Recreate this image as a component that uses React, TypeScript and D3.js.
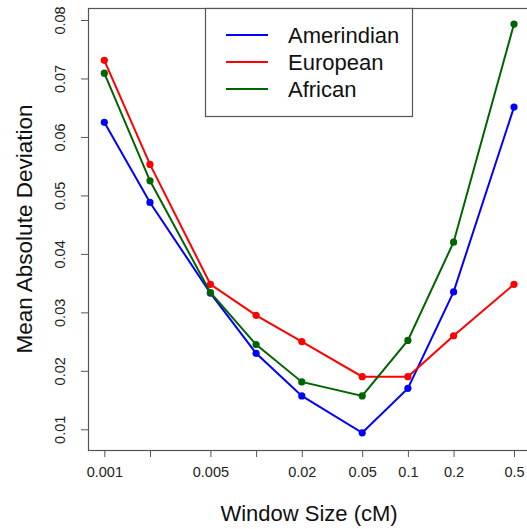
import { useEffect, useRef } from "react";
import * as d3 from "d3";

// window sizes (cM) and mean absolute deviation per ancestry
const windowSizes = [0.001, 0.002, 0.005, 0.01, 0.02, 0.05, 0.1, 0.2, 0.5];
const amerindian = [0.0625, 0.0488, 0.0333, 0.023, 0.0157, 0.0094, 0.017, 0.0335, 0.0651];
const european = [0.0731, 0.0553, 0.0348, 0.0295, 0.025, 0.019, 0.019, 0.026, 0.0348];
const african = [0.0709, 0.0525, 0.0334, 0.0245, 0.0181, 0.0157, 0.0252, 0.042, 0.0793];
const xLabels = ["0.001", "", "0.005", "", "0.02", "0.05", "0.1", "0.2", "0.5"];
const yTicks = [0.01, 0.02, 0.03, 0.04, 0.05, 0.06, 0.07, 0.08];

const seriesNames = ["Amerindian", "European", "African"];
const seriesColors = ["#0000ff", "#ff0000", "#006400"];
const seriesValues = [amerindian, european, african];

const App = () => {
  const width = 527;
  const height = 529;
  const plotLeft = 88;
  const plotTop = 8;
  const plotBottom = 450;
  const plotRight = 530;
  const font = "'Liberation Sans', Arial, Helvetica, sans-serif";

  const xAxisRef = useRef<SVGGElement>(null);
  const yAxisRef = useRef<SVGGElement>(null);

  // R style: 4% padding on each side of the data range
  const xScale = d3.scaleLog().domain([0.001, 0.5]).range([104.3, 514]);
  const yScale = d3.scaleLinear().domain([0.01, 0.08]).range([429.3, 20]);

  const line = d3
    .line<number>()
    .x((d, i) => xScale(windowSizes[i]))
    .y((d) => yScale(d));

  useEffect(() => {
    const xAxis = d3
      .axisBottom(xScale)
      .tickValues(windowSizes)
      .tickSize(7)
      .tickPadding(10)
      .tickFormat((d, i) => xLabels[i]);
    const gx = d3.select(xAxisRef.current);
    gx.call(xAxis as any);
    gx.select(".domain").remove();
    gx.selectAll("line").attr("stroke", "#555");
    gx.selectAll("text")
      .attr("font-size", 14.5)
      .attr("font-family", font)
      .attr("fill", "#222");

    const yAxis = d3
      .axisLeft(yScale)
      .tickValues(yTicks)
      .tickSize(7)
      .tickFormat(d3.format(".2f"));
    const gy = d3.select(yAxisRef.current);
    gy.call(yAxis as any);
    gy.select(".domain").remove();
    gy.selectAll("line").attr("stroke", "#555");
    gy.selectAll("text")
      .attr("font-size", 14.5)
      .attr("font-family", font)
      .attr("fill", "#222")
      .attr("x", 0)
      .attr("dy", 0)
      .attr("text-anchor", "middle")
      .attr("transform", "translate(-23,0) rotate(-90)");
  }, []);

  return (
    <svg
      width={width}
      height={height}
      style={{ position: "absolute", left: 0, top: 0, background: "#fff" }}
    >
      <rect x={0} y={0} width={width} height={height} fill="#fff" />
      {seriesValues.map((vals, s) => (
        <g key={seriesNames[s]}>
          <path d={line(vals) || ""} fill="none" stroke={seriesColors[s]} strokeWidth={2} />
          {vals.map((v, i) => (
            <circle key={i} cx={xScale(windowSizes[i])} cy={yScale(v)} r={3.6} fill={seriesColors[s]} />
          ))}
        </g>
      ))}
      <rect
        x={plotLeft + 0.5}
        y={plotTop + 0.5}
        width={plotRight - plotLeft}
        height={plotBottom - plotTop}
        fill="none"
        stroke="#555"
        strokeWidth={1.2}
      />
      <g ref={xAxisRef} transform={`translate(0,${plotBottom})`} />
      <g ref={yAxisRef} transform={`translate(${plotLeft},0)`} />

      {/* legend */}
      <rect x={205.5} y={plotTop + 0.5} width={207} height={108} fill="#fff" stroke="#555" strokeWidth={1.2} />
      {seriesNames.map((name, i) => (
        <g key={name} transform={`translate(0,${35 + i * 27})`}>
          <line x1={226} x2={268} y1={0} y2={0} stroke={seriesColors[i]} strokeWidth={2} />
          <text x={288} y={0} dy="0.36em" fontSize={22} fontFamily={font} fill="#111">
            {name}
          </text>
        </g>
      ))}

      {/* axis titles */}
      <text x={309} y={521} textAnchor="middle" fontSize={22} fontFamily={font} fill="#111">
        Window Size (cM)
      </text>
      <text
        transform={`translate(32,229) rotate(-90)`}
        textAnchor="middle"
        fontSize={22.5}
        fontFamily={font}
        fill="#111"
      >
        Mean Absolute Deviation
      </text>
    </svg>
  );
};

export default App;
